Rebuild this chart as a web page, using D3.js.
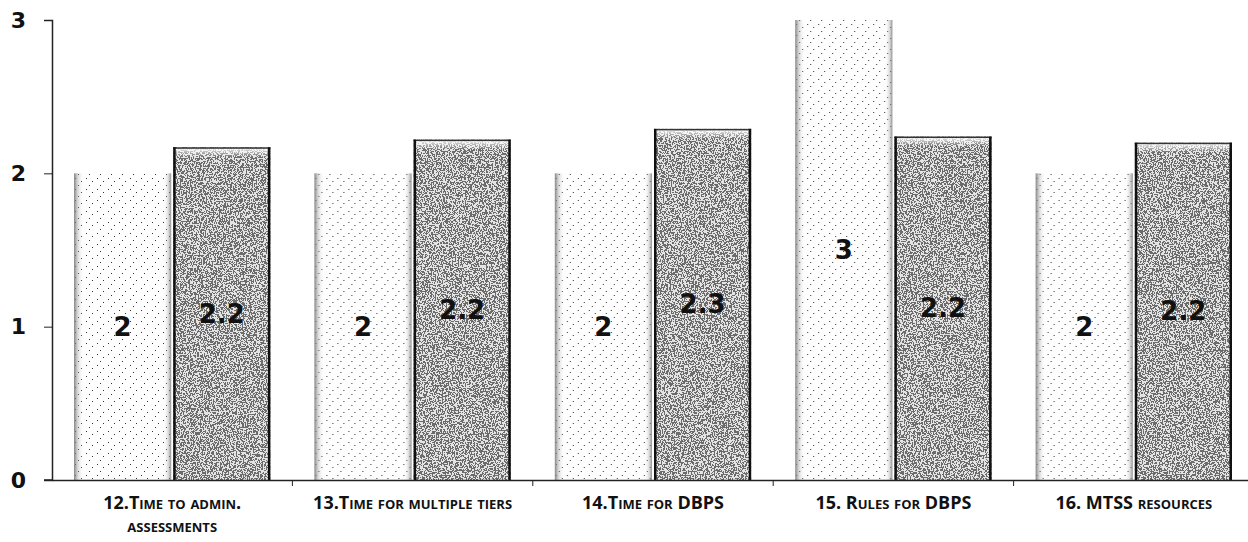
<!DOCTYPE html>
<html>
<head>
<meta charset="utf-8">
<script src="https://cdn.jsdelivr.net/npm/d3@7"></script>
<style>
	body { margin: 0; background: #fff; }
	svg { display: block; }
	.cat-label { font-family: "Open Sans", sans-serif; font-weight: 700; font-size: 18px; font-variant: small-caps; fill: #111; }
	.y-label { font-family: "DejaVu Sans", sans-serif; font-weight: 700; font-size: 22px; fill: #111; }
	.val-label { font-family: "DejaVu Sans", sans-serif; font-weight: 700; font-size: 26px; fill: #111; }
</style>
</head>
<body>
<div id="chart"></div>
<script>
// categories (survey items) and the two series
const categories = [
	"12.Time to admin. assessments",
	"13.Time for multiple tiers",
	"14.Time for DBPS",
	"15. Rules for DBPS",
	"16. MTSS resources"
];
const categoryLines = [
	["12.Time to admin.", "assessments"],
	["13.Time for multiple tiers"],
	["14.Time for DBPS"],
	["15. Rules for DBPS"],
	["16. MTSS resources"]
];
const seriesNames = ["light", "dark"];
const lightValues = [2, 2, 2, 3, 2];
const darkValues = [2.17, 2.22, 2.29, 2.24, 2.2];
const yTicks = [0, 1, 2, 3];

const W = 1248, H = 542;
const margin = {top: 20, left: 52, bottom: 62};

const svg = d3.select("#chart").append("svg")
	.attr("width", W)
	.attr("height", H);

const defs = svg.append("defs");

// sparse stipple for the light bars
const dots = defs.append("pattern")
	.attr("id", "lightDots")
	.attr("patternUnits", "userSpaceOnUse")
	.attr("width", 11).attr("height", 11);
dots.append("rect").attr("width", 11).attr("height", 11).attr("fill", "#fefefe");
[[1, 2], [7, 5], [4, 9]].forEach(p => {
	dots.append("rect").attr("x", p[0]).attr("y", p[1]).attr("width", 1).attr("height", 1).attr("fill", "#333");
});

// dense grain for the dark bars
const grain = defs.append("filter")
	.attr("id", "grain")
	.attr("x", 0).attr("y", 0).attr("width", 1).attr("height", 1);
grain.append("feTurbulence")
	.attr("type", "fractalNoise")
	.attr("baseFrequency", 0.7)
	.attr("numOctaves", 2)
	.attr("seed", 5)
	.attr("result", "noise");
grain.append("feColorMatrix")
	.attr("in", "noise")
	.attr("type", "saturate")
	.attr("values", 0)
	.attr("result", "gray");
const ct = grain.append("feComponentTransfer").attr("in", "gray").attr("result", "bw");
["feFuncR", "feFuncG", "feFuncB"].forEach(f => ct.append(f).attr("type", "discrete").attr("tableValues", "0.15 0.78"));
ct.append("feFuncA").attr("type", "linear").attr("slope", 0).attr("intercept", 1);
grain.append("feComposite").attr("in", "bw").attr("in2", "SourceAlpha").attr("operator", "in");

// edge shading for the light bars
const edgeGrad = defs.append("linearGradient").attr("id", "lightEdge").attr("x1", "0%").attr("x2", "100%");
[[0, "#777", 0.9], [4, "#999", 0.35], [10, "#fff", 0], [92, "#fff", 0], [97, "#999", 0.35], [100, "#777", 0.8]]
	.forEach(s => edgeGrad.append("stop").attr("offset", s[0] + "%").attr("stop-color", s[1]).attr("stop-opacity", s[2]));

// top highlight for the dark bars
const topGrad = defs.append("linearGradient").attr("id", "darkTop").attr("x1", 0).attr("x2", 0).attr("y1", 0).attr("y2", 1);
topGrad.append("stop").attr("offset", "0%").attr("stop-color", "#fff").attr("stop-opacity", 0.9);
topGrad.append("stop").attr("offset", "100%").attr("stop-color", "#fff").attr("stop-opacity", 0);

// scales
const y = d3.scaleLinear()
	.domain([0, 3])
	.range([H - margin.bottom, margin.top]);

const x0 = d3.scaleBand()
	.domain(categories)
	.range([margin.left, margin.left + 5 * 240.4])
	.padding(0);

const x1 = d3.scaleBand()
	.domain(seriesNames)
	.range([0, x0.bandwidth()])
	.paddingInner(0.02)
	.paddingOuter(0.222);

const data = categories.map((c, i) => ({
	cat: c,
	values: [
		{series: "light", value: lightValues[i]},
		{series: "dark", value: darkValues[i]}
	]
}));

const fmt = v => String(+v.toFixed(1));

// bars
const groups = svg.append("g").selectAll("g")
	.data(data)
	.join("g")
	.attr("transform", d => `translate(${x0(d.cat)},0)`);

const bars = groups.selectAll("g.bar")
	.data(d => d.values)
	.join("g")
	.attr("class", "bar");

bars.each(function(d) {
	const g = d3.select(this);
	const bx = x1(d.series), bw = x1.bandwidth();
	const by = y(d.value), bh = y(0) - y(d.value);
	if (d.series === "light") {
		g.append("rect").attr("x", bx).attr("y", by).attr("width", bw).attr("height", bh)
			.attr("fill", "url(#lightDots)");
		g.append("rect").attr("x", bx).attr("y", by).attr("width", bw).attr("height", bh)
			.attr("fill", "url(#lightEdge)");
	} else {
		g.append("rect").attr("x", bx).attr("y", by).attr("width", bw).attr("height", bh)
			.attr("fill", "#000")
			.attr("filter", "url(#grain)");
		g.append("rect").attr("x", bx).attr("y", by + 1).attr("width", bw).attr("height", 9)
			.attr("fill", "url(#darkTop)");
		g.append("rect").attr("x", bx).attr("y", by).attr("width", bw).attr("height", 1.5).attr("fill", "#333");
		g.append("rect").attr("x", bx).attr("y", by).attr("width", 2.5).attr("height", bh).attr("fill", "#111");
		g.append("rect").attr("x", bx + bw - 2.5).attr("y", by).attr("width", 2.5).attr("height", bh).attr("fill", "#111");
	}
	g.append("text")
		.attr("class", "val-label")
		.attr("x", bx + bw / 2)
		.attr("y", by + bh / 2)
		.attr("text-anchor", "middle")
		.attr("dominant-baseline", "central")
		.text(fmt(d.value));
});

// y axis
const yAxis = d3.axisLeft(y)
	.tickValues(yTicks)
	.tickSize(8)
	.tickFormat(d3.format("d"));

const yG = svg.append("g")
	.attr("transform", `translate(${margin.left},0)`)
	.call(yAxis);
yG.select(".domain").attr("stroke", "#222").attr("stroke-width", 1.5);
yG.selectAll(".tick line").attr("stroke", "#222");
yG.selectAll(".tick text")
	.attr("class", "y-label")
	.attr("x", -26)
	.attr("text-anchor", "end")
	.attr("font-family", null)
	.attr("font-size", null);

// x axis
const xAxis = d3.axisBottom(x0).tickSize(0).tickSizeOuter(0).tickFormat("");
const xG = svg.append("g")
	.attr("transform", `translate(0,${y(0)})`)
	.call(xAxis);
xG.select(".domain").attr("stroke", "#222").attr("stroke-width", 1.5);

svg.append("line")
	.attr("x1", margin.left - 8).attr("x2", margin.left)
	.attr("y1", y(0)).attr("y2", y(0))
	.attr("stroke", "#222").attr("stroke-width", 1.5);

// boundary ticks between categories
xG.selectAll(".bound")
	.data(categories.slice(1))
	.join("line")
	.attr("class", "bound")
	.attr("x1", d => x0(d)).attr("x2", d => x0(d))
	.attr("y1", 0).attr("y2", 6)
	.attr("stroke", "#222");

// category labels
xG.selectAll(".tick").each(function(d, i) {
	const t = d3.select(this).append("text")
		.attr("class", "cat-label")
		.attr("text-anchor", "middle")
		.attr("y", 29);
	categoryLines[i].forEach((line, j) => {
		t.append("tspan")
			.attr("x", 0)
			.attr("dy", j === 0 ? 0 : 23)
			.text(line);
	});
});
</script>
</body>
</html>
